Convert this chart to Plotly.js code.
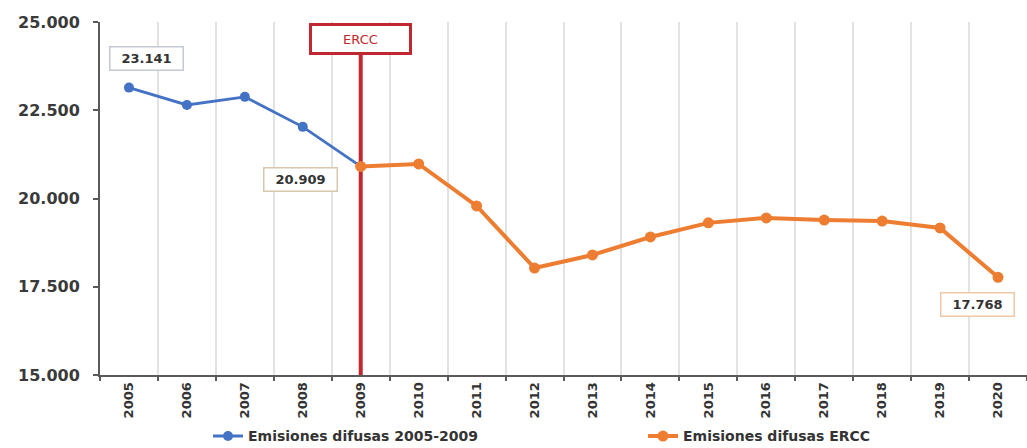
<!DOCTYPE html>
<html>
<head>
<meta charset="utf-8">
<script src="https://cdn.plot.ly/plotly-3.0.1.min.js"></script>
<style>html,body{margin:0;padding:0;background:#fff;}#chart{width:1027px;height:448px;}#err{position:absolute;left:120px;top:60px;color:#000;font:12px monospace;}</style>
</head>
<body>
<div id="chart"></div>
<div id="err"></div>
<script>
// ---- data ----
const years = ['2005','2006','2007','2008','2009','2010','2011','2012','2013','2014','2015','2016','2017','2018','2019','2020'];
const yearsPre = ['2005','2006','2007','2008','2009'];
const valuesPre = [23141, 22650, 22880, 22030, 20909];
const yearsErcc = ['2009','2010','2011','2012','2013','2014','2015','2016','2017','2018','2019','2020'];
const valuesErcc = [20909, 20980, 19790, 18030, 18400, 18910, 19310, 19450, 19390, 19360, 19165, 17768];
const seriesNames = ['Emisiones difusas 2005-2009', 'Emisiones difusas ERCC'];
const yTicks = [15000, 17500, 20000, 22500, 25000];
const markerLabel = 'ERCC';
const markerYear = '2009';
const labelYears = ['2005', '2009', '2020'];
const labelValues = [23141, 20909, 17768];
const labelTexts = ['23.141', '20.909', '17.768'];

// ---- styles ----
const blue = '#4472C4', orange = '#ED7D31', red = '#C0282F';
const axisColor = '#5a5a5a';
const labelStyles = [
  {xshift: 18, yshift: 29, bordercolor: '#c3c8d2'},
  {xshift: -60, yshift: -13, bordercolor: '#d8c6ad'},
  {xshift: -21, yshift: -27, bordercolor: '#efc8a8'}
];

function showErr(e) {
  document.getElementById('err').textContent = String(e && (e.stack || e.message) || e);
}
window.onerror = function (m) { showErr(m); };

try {
  const traces = [
    {x: yearsPre, y: valuesPre, name: seriesNames[0], type: 'scatter', mode: 'lines+markers',
     line: {color: blue, width: 2.8}, marker: {color: blue, size: 10}},
    {x: yearsErcc, y: valuesErcc, name: seriesNames[1], type: 'scatter', mode: 'lines+markers',
     line: {color: orange, width: 4}, marker: {color: orange, size: 11}}
  ];

  const annotations = labelYears.map((yr, i) => ({
    x: years.indexOf(yr), y: labelValues[i], xref: 'x', yref: 'y', text: labelTexts[i], showarrow: false,
    xshift: labelStyles[i].xshift, yshift: labelStyles[i].yshift,
    font: {family: 'DejaVu Sans', size: 13, color: '#333', weight: 'bold'},
    bgcolor: '#ffffff', bordercolor: labelStyles[i].bordercolor, borderwidth: 1.5,
    borderpad: 3, width: 66, height: 16
  }));
  annotations.push({
    x: years.indexOf(markerYear), xref: 'x', y: 1, yref: 'paper', yanchor: 'middle', yshift: -17,
    text: markerLabel, showarrow: false,
    font: {family: 'DejaVu Sans', size: 13, color: red},
    bgcolor: '#ffffff', bordercolor: red, borderwidth: 3, borderpad: 0,
    width: 97, height: 26
  });

  const layout = {
    width: 1027, height: 448,
    margin: {l: 100, r: 0, t: 22, b: 73, autoexpand: false},
    paper_bgcolor: '#fff', plot_bgcolor: '#fff',
    separators: ',.',
    showlegend: true,
    legend: {orientation: 'h', x: 0.1165, xanchor: 'left', y: -0.174, yanchor: 'middle',
             entrywidth: 390, entrywidthmode: 'pixels',
             font: {family: 'DejaVu Sans', size: 14, color: '#333', weight: 'bold'}},
    xaxis: {type: 'category', categoryarray: years, categoryorder: 'array',
            range: [-0.5, years.length - 0.5],
            tickson: 'boundaries', showgrid: true, gridcolor: '#e2e2e2', gridwidth: 2,
            ticks: 'outside', ticklen: 4, tickcolor: axisColor, tickwidth: 2,
            showline: true, linecolor: axisColor, linewidth: 2,
            tickangle: -90, tickfont: {family: 'DejaVu Sans', size: 13, color: '#333', weight: 'bold'},
            fixedrange: true},
    yaxis: {range: [15000, 25000], tickvals: yTicks, tickformat: ',d',
            showgrid: false, zeroline: false,
            ticks: 'outside', ticklen: 5, tickcolor: axisColor, tickwidth: 2,
            showline: true, linecolor: axisColor, linewidth: 2,
            ticklabelstandoff: 10,
            tickfont: {family: 'DejaVu Sans', size: 16, color: '#3a3a3a', weight: 'bold'},
            fixedrange: true},
    shapes: [{type: 'line', xref: 'x', yref: 'paper',
              x0: years.indexOf(markerYear), x1: years.indexOf(markerYear), y0: 0, y1: 0.95,
              line: {color: red, width: 4}, layer: 'below'}],
    annotations: annotations
  };

  Plotly.newPlot('chart', traces, layout, {displayModeBar: false}).catch(showErr);
} catch (e) { showErr(e); }
</script>
</body>
</html>
